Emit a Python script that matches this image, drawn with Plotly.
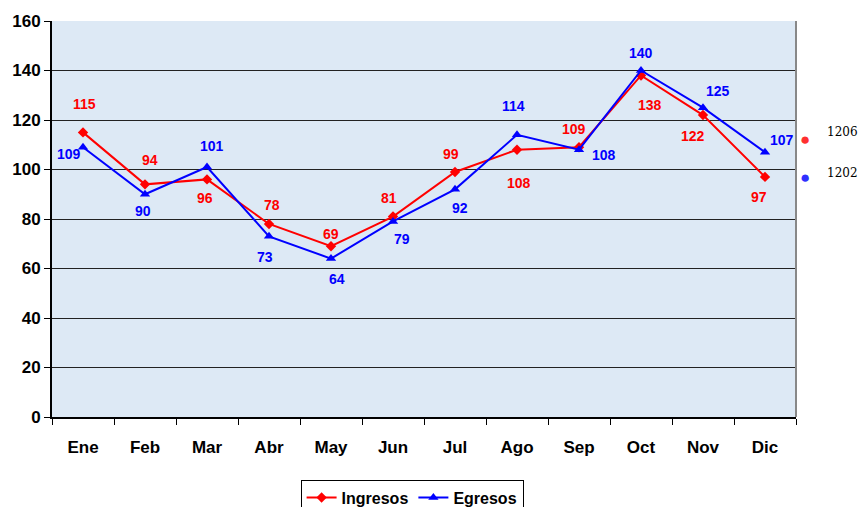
import plotly.graph_objects as go

months = ["Ene", "Feb", "Mar", "Abr", "May", "Jun", "Jul", "Ago", "Sep", "Oct", "Nov", "Dic"]
ingresos = [115, 94, 96, 78, 69, 81, 99, 108, 109, 138, 122, 97]
egresos = [109, 90, 101, 73, 64, 79, 92, 114, 108, 140, 125, 107]

# label offsets (px) for the value labels
ing_off = [(1, 28), (5, 24), (-2, -19), (3, 19), (0, 12), (-4, 19), (-4, 18), (2, -33), (-5, 18), (9, -30), (-10, -21), (-6, -20)]
egr_off = [(-14, -7), (-2, -17), (5, 21), (-4, -21), (6, -20), (9, -18), (5, -19), (-4, 29), (25, -5), (0, 18), (15, 17), (17, 12)]

FONT = "Liberation Sans, Arial, sans-serif"

fig = go.Figure()
fig.add_trace(go.Scatter(x=months, y=ingresos, mode="lines+markers", name="<b>Ingresos</b>",
                         line=dict(color="#ff0000", width=2),
                         marker=dict(symbol="diamond", size=8, color="#ff0000")))
fig.add_trace(go.Scatter(x=months, y=egresos, mode="lines+markers", name="<b>Egresos</b>",
                         line=dict(color="#0000ff", width=2),
                         marker=dict(symbol="triangle-up", size=9, color="#0000ff")))

anns = []
for m, v, (dx, dy) in zip(months, ingresos, ing_off):
    anns.append(dict(x=m, y=v, text=f"<b>{v}</b>", showarrow=False, xshift=dx, yshift=dy,
                     font=dict(family=FONT, size=14, color="#ff0000")))
for m, v, (dx, dy) in zip(months, egresos, egr_off):
    anns.append(dict(x=m, y=v, text=f"<b>{v}</b>", showarrow=False, xshift=dx, yshift=dy,
                     font=dict(family=FONT, size=14, color="#0000ff")))

# side legend-like labels
for txt, col, py in [("1206", "#ff3030", 0.73), ("1202", "#3030ff", 0.604)]:
    anns.append(dict(xref="paper", yref="paper", x=1.021, y=py, text="●", showarrow=False,
                     font=dict(size=17, color=col)))
    anns.append(dict(xref="paper", yref="paper", x=1.039, y=py + 0.012, xanchor="left", text=txt,
                     showarrow=False, font=dict(family="DejaVu Serif, serif", size=12, color="#000000")))

# page body has an 8px margin, so the figure is drawn 8px in from the top-left
fig.update_layout(
    width=858, height=499,
    margin=dict(l=44, r=70, t=13, b=90, autoexpand=False),
    paper_bgcolor="white",
    plot_bgcolor="#dde9f5",
    font=dict(family=FONT, color="black"),
    annotations=anns,
    showlegend=True,
    legend=dict(orientation="h", x=0.484, y=-0.158, xanchor="center", yanchor="top",
                bordercolor="black", borderwidth=1, bgcolor="white",
                font=dict(family=FONT, size=16, color="black"),
                itemwidth=30, tracegroupgap=0),
)
fig.update_xaxes(type="category", range=[-0.5, 11.5], tickson="boundaries",
                 ticks="outside", ticklen=6, tickcolor="black", automargin=False,
                 showline=True, linecolor="black", linewidth=2, mirror=False,
                 showgrid=False,
                 tickfont=dict(family=FONT, size=17, color="black"),
                 tickprefix="<b>", ticksuffix="</b>")
fig.update_xaxes(ticklabelstandoff=14)
fig.update_yaxes(range=[0, 160], dtick=20, ticks="outside", ticklen=6, tickcolor="black",
                 showline=True, linecolor="black", linewidth=2, automargin=False,
                 showgrid=True, gridcolor="#222222", gridwidth=1,
                 zeroline=False,
                 tickfont=dict(family=FONT, size=17, color="black"),
                 tickprefix="<b>", ticksuffix="</b>")
fig.add_shape(type="line", xref="paper", yref="paper", x0=1, x1=1, y0=0, y1=1,
              line=dict(color="#888888", width=2))

fig.write_html("out.html")
